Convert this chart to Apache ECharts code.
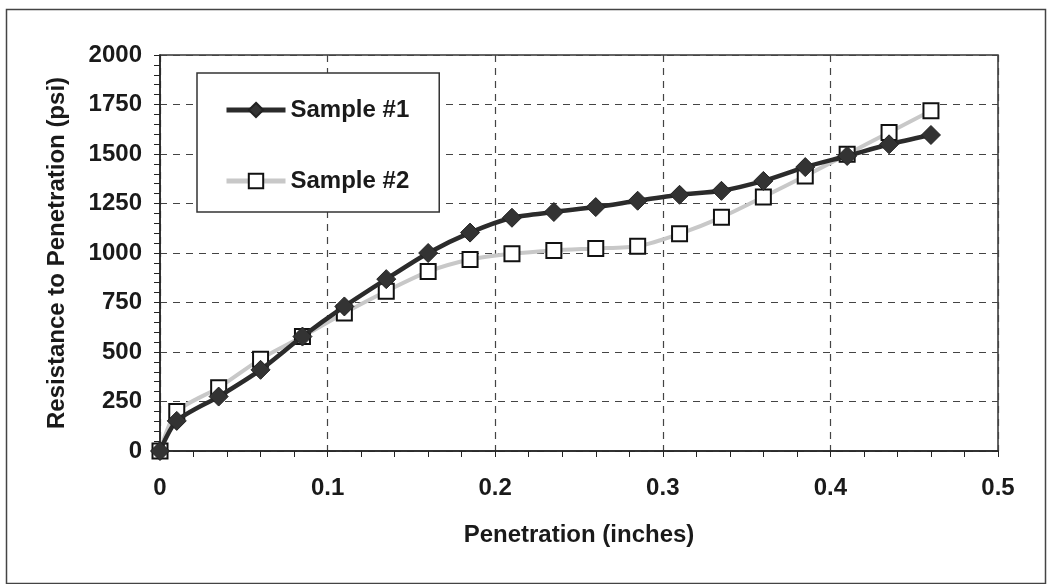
<!DOCTYPE html>
<html>
<head>
<meta charset="utf-8">
<script src="https://cdn.jsdelivr.net/npm/echarts@6/dist/echarts.min.js"></script>
<style>
  html, body { margin: 0; padding: 0; background: #fff; }
  #chart { width: 1048px; height: 584px; }
</style>
</head>
<body>
<div id="chart"></div>
<script>
// penetration depth (inches)
var penetration = [0, 0.01, 0.035, 0.06, 0.085, 0.11, 0.135, 0.16, 0.185, 0.21,
  0.235, 0.26, 0.285, 0.31, 0.335, 0.36, 0.385, 0.41, 0.435, 0.46];
// resistance (psi)
var sample1 = [0, 152, 275, 410, 578, 730, 868, 1000, 1103, 1178,
  1207, 1232, 1264, 1294, 1314, 1364, 1434, 1490, 1549, 1596];
var sample2 = [0, 199, 320, 464, 578, 697, 807, 906, 967, 996,
  1013, 1023, 1034, 1097, 1180, 1283, 1389, 1499, 1609, 1718];
var xTicks = [0, 0.1, 0.2, 0.3, 0.4, 0.5];
var yTicks = [0, 250, 500, 750, 1000, 1250, 1500, 1750, 2000];

function pairs(ys) {
  return penetration.map(function (x, i) { return [x, ys[i]]; });
}

var font = '"Liberation Sans", Arial, sans-serif';
var txt = '#1a1a1a';
var myChart = echarts.init(document.getElementById('chart'));
var option = {
  backgroundColor: '#fff',
  animation: false,
  textStyle: { fontFamily: font },
  graphic: [{
    type: 'rect',
    left: 4, top: 7,
    shape: { width: 1039, height: 574 },
    style: { fill: 'none', stroke: '#444', lineWidth: 1.5 },
    silent: true
  }],
  grid: {
    left: 160, right: 50, top: 55, bottom: 133,
    show: true, borderColor: '#333', borderWidth: 1.5
  },
  legend: {
    orient: 'vertical',
    left: 197, top: 73,
    padding: [25, 30, 19, 27],
    itemGap: 47,
    itemWidth: 59, itemHeight: 18,
    backgroundColor: '#fff',
    borderColor: '#333', borderWidth: 1.5,
    lineStyle: { width: 5 },
    textStyle: { fontFamily: font, fontWeight: 'bold', fontSize: 24, color: txt },
    data: ['Sample #1', 'Sample #2']
  },
  xAxis: {
    type: 'value',
    min: 0, max: 0.5, interval: 0.1,
    name: 'Penetration (inches)',
    nameLocation: 'middle', nameGap: 72,
    nameTextStyle: { fontFamily: font, fontWeight: 'bold', fontSize: 24, color: txt },
    axisLine: { show: true, onZero: false, lineStyle: { color: '#222', width: 1.5 } },
    axisTick: { show: true, inside: false, length: 6, lineStyle: { color: '#222' } },
    minorTick: { show: true, splitNumber: 5, length: 6, lineStyle: { color: '#222' } },
    axisLabel: {
      margin: 25, fontFamily: font, fontWeight: 'bold', fontSize: 24, color: txt,
      formatter: function (v) { return xTicks.indexOf(+v.toFixed(1)) >= 0 ? String(+v.toFixed(1)) : ''; }
    },
    splitLine: { show: true, lineStyle: { color: '#444', type: [7, 6], width: 1.2 } }
  },
  yAxis: {
    type: 'value',
    min: 0, max: 2000, interval: 250,
    name: 'Resistance to Penetration (psi)',
    nameLocation: 'middle', nameGap: 91,
    nameTextStyle: { fontFamily: font, fontWeight: 'bold', fontSize: 24, color: txt },
    axisLine: { show: true, onZero: false, lineStyle: { color: '#222', width: 1.5 } },
    axisTick: { show: true, inside: false, length: 6, lineStyle: { color: '#222' } },
    minorTick: { show: true, splitNumber: 5, length: 6, lineStyle: { color: '#222' } },
    axisLabel: {
      margin: 18, fontFamily: font, fontWeight: 'bold', fontSize: 24, color: txt,
      formatter: function (v) { return yTicks.indexOf(v) >= 0 ? String(v) : ''; }
    },
    splitLine: { show: true, lineStyle: { color: '#444', type: [7, 6], width: 1.2 } }
  },
  series: [{
    name: 'Sample #2',
    type: 'line',
    smooth: 0.25,
    data: pairs(sample2),
    symbol: 'rect',
    symbolSize: 15,
    z: 2,
    lineStyle: { color: '#c8c8c8', width: 4 },
    itemStyle: { color: '#fff', borderColor: '#111', borderWidth: 2 }
  }, {
    name: 'Sample #1',
    type: 'line',
    smooth: 0.25,
    data: pairs(sample1),
    symbol: 'diamond',
    symbolSize: 19,
    z: 3,
    lineStyle: { color: '#2b2b2b', width: 4.5 },
    itemStyle: { color: '#333', borderColor: '#222', borderWidth: 1 }
  }]
};
myChart.setOption(option);
</script>
</body>
</html>
